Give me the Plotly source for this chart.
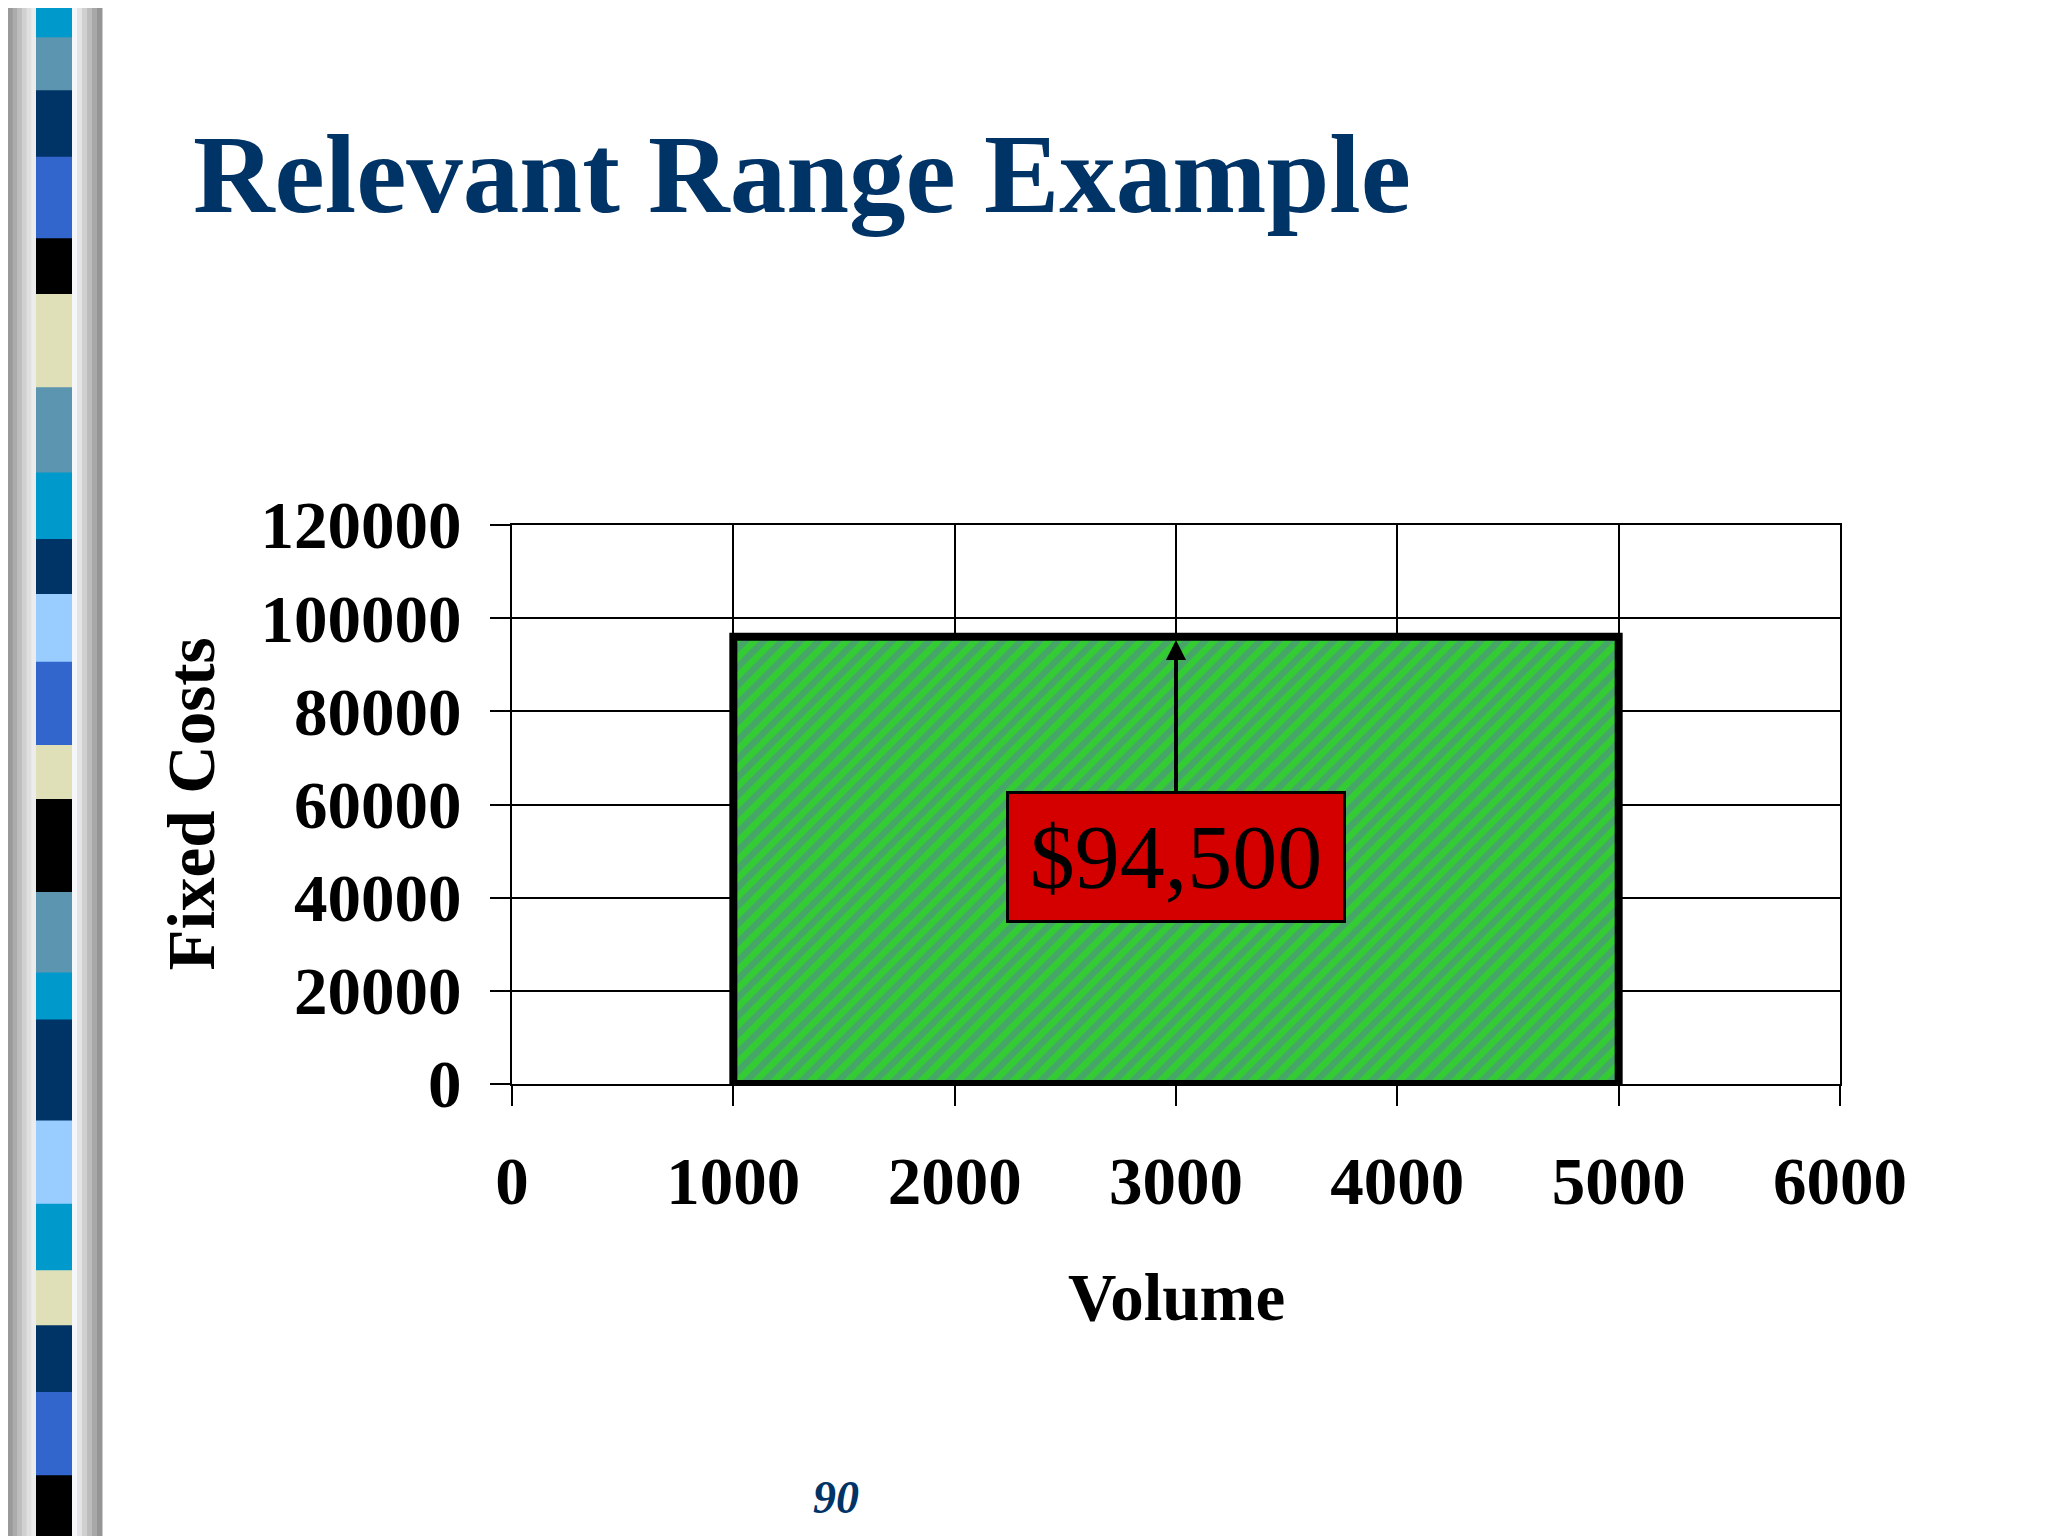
import plotly.graph_objects as go

# dados do grafico
volume_min = 1000
volume_max = 5000
custo_fixo = 96000
rotulo_custo = '$94,500'
x_ticks = [0, 1000, 2000, 3000, 4000, 5000, 6000]
y_ticks = [0, 20000, 40000, 60000, 80000, 100000, 120000]

W, H = 2048, 1536
OFF = 8  # margem do body da pagina
ML, MR, MT, MB = 512 - OFF, 208 + OFF, 525 - OFF, 452 + OFF
PW = W - ML - MR
PH = H - MT - MB


def px_x(px):
    return (px - OFF - ML) / PW


def px_y(py):
    return (H - MB - (py - OFF)) / PH


fig = go.Figure()

fig.add_trace(go.Scatter(
    x=[volume_min, volume_min, volume_max, volume_max, volume_min],
    y=[0, custo_fixo, custo_fixo, 0, 0],
    mode='lines',
    fill='toself',
    fillcolor='#33CC33',
    fillpattern=dict(shape='/', bgcolor='#33CC33', fgcolor='#5A809E',
                     size=13, solidity=0.5),
    line=dict(color='black', width=8),
    hoverinfo='skip',
    showlegend=False
))

fonte = 'Liberation Serif'

fig.update_layout(
    width=W, height=H,
    margin=dict(l=ML, r=MR, t=MT, b=MB),
    paper_bgcolor='white',
    plot_bgcolor='white',
    title=dict(
        text='<b>Relevant Range Example</b>',
        x=(193 - OFF) / W, xanchor='left', xref='container',
        y=1 - (172 - OFF) / H, yanchor='middle', yref='container',
        font=dict(family=fonte, size=113, color='#003366')
    ),
    xaxis=dict(
        range=[0, 6000], tickvals=x_ticks, tickformat='d',
        showgrid=True, gridcolor='black', gridwidth=2,
        showline=True, linecolor='black', linewidth=2, mirror=True,
        zeroline=False,
        ticks='outside', ticklen=20, tickwidth=2, tickcolor='black',
        ticklabelstandoff=18,
        tickfont=dict(family=fonte, size=67, color='black', weight='bold')
    ),
    yaxis=dict(
        range=[0, 120000], tickvals=y_ticks, tickformat='d',
        showgrid=True, gridcolor='black', gridwidth=2,
        showline=True, linecolor='black', linewidth=2, mirror=True,
        zeroline=False,
        ticks='outside', ticklen=20, tickwidth=2, tickcolor='black',
        ticklabelstandoff=15,
        tickfont=dict(family=fonte, size=67, color='black', weight='bold')
    ),
)

# rotulos dos eixos
fig.add_annotation(
    text='<b>Volume</b>', xref='paper', yref='paper',
    x=0.5, y=px_y(1297), xanchor='center', yanchor='middle',
    showarrow=False, font=dict(family=fonte, size=67, color='black')
)
fig.add_annotation(
    text='<b>Fixed Costs</b>', xref='paper', yref='paper',
    x=px_x(190), y=0.5, xanchor='center', yanchor='middle', textangle=-90,
    showarrow=False, font=dict(family=fonte, size=67, color='black')
)

# caixa do valor com seta
fig.add_annotation(
    text=rotulo_custo, x=3000, y=95300, xref='x', yref='y',
    ax=3000, ay=48800, axref='x', ayref='y',
    showarrow=True, arrowhead=2, arrowsize=1, arrowwidth=4, arrowcolor='black',
    bgcolor='#D40000', bordercolor='black', borderwidth=3,
    width=332, height=124, align='center', valign='middle',
    font=dict(family=fonte, size=90, color='black')
)

# numero do slide
fig.add_annotation(
    text='<b><i>90</i></b>', xref='paper', yref='paper',
    x=px_x(836), y=px_y(1497), xanchor='center', yanchor='middle',
    showarrow=False, font=dict(family=fonte, size=46, color='#003366')
)

# faixa decorativa da esquerda
cinzas_esq = ['#9a9a9a', '#acacac', '#bebebe', '#d0d0d0', '#e0e0e0', '#ececec']
largura = 28 / len(cinzas_esq)
for i, c in enumerate(cinzas_esq):
    fig.add_shape(type='rect', xref='paper', yref='paper', layer='above',
                  x0=px_x(OFF + i * largura), x1=px_x(OFF + (i + 1) * largura + 0.5),
                  y0=px_y(H + OFF), y1=px_y(OFF), fillcolor=c, line_width=0)

cinzas_dir = ['#f4f6fa', '#e4e4e4', '#d0d0d0', '#bcbcbc', '#a8a8a8', '#959595']
largura = 30 / len(cinzas_dir)
for i, c in enumerate(cinzas_dir):
    fig.add_shape(type='rect', xref='paper', yref='paper', layer='above',
                  x0=px_x(72 + i * largura), x1=px_x(72 + (i + 1) * largura + 0.5),
                  y0=px_y(H + OFF), y1=px_y(OFF), fillcolor=c, line_width=0)

listras = [
    (0, 38, '#0099CC'), (38, 92, '#5B95B0'), (92, 160, '#003366'),
    (160, 243, '#3366CC'), (243, 300, '#000000'), (300, 395, '#E0E0B8'),
    (395, 482, '#5B95B0'), (482, 550, '#0099CC'), (550, 606, '#003366'),
    (606, 675, '#99CCFF'), (675, 760, '#3366CC'), (760, 815, '#E0E0B8'),
    (815, 910, '#000000'), (910, 992, '#5B95B0'), (992, 1040, '#0099CC'),
    (1040, 1143, '#003366'), (1143, 1228, '#99CCFF'), (1228, 1296, '#0099CC'),
    (1296, 1352, '#E0E0B8'), (1352, 1420, '#003366'), (1420, 1505, '#3366CC'),
    (1505, 1567, '#000000'),
]
esc = H / 1567
for y0, y1, c in listras:
    fig.add_shape(type='rect', xref='paper', yref='paper', layer='above',
                  x0=px_x(36), x1=px_x(72),
                  y0=px_y(y1 * esc + OFF), y1=px_y(y0 * esc), fillcolor=c, line_width=0)

fig.write_html('out.html')
